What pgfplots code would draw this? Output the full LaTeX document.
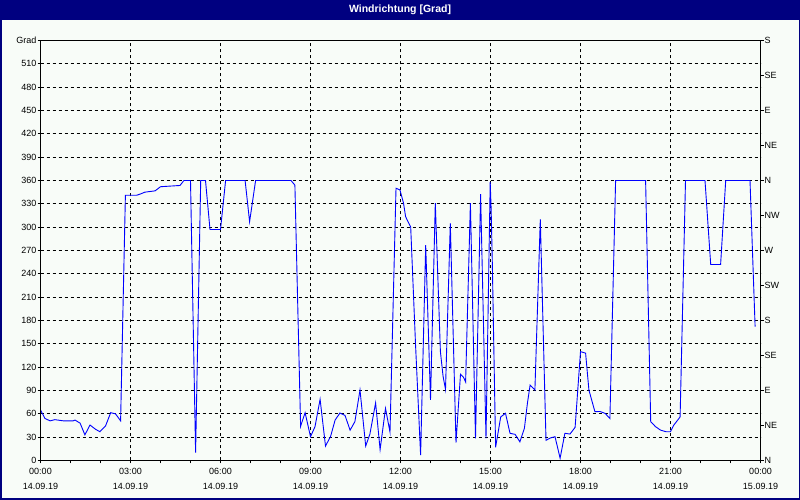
\documentclass[border=0pt]{standalone}
\usepackage{pgfplots}
\pgfplotsset{compat=1.18}
\usepackage{fontspec}
\setmainfont{Liberation Sans}
\definecolor{navy}{RGB}{0,0,128}
\definecolor{bgc}{RGB}{248,252,248}
\begin{document}
\begin{tikzpicture}
\useasboundingbox (0pt,0pt) rectangle (800pt,500pt);
\fill[bgc] (0pt,0pt) rectangle (800pt,500pt);
\fill[navy] (0pt,479.5pt) rectangle (800pt,500pt);
\draw[navy,line width=1.5pt] (0.75pt,0.75pt) rectangle (799.25pt,499.25pt);
\node[white,font=\bfseries\fontsize{10.5}{12}\selectfont] at (400pt,490pt) {Windrichtung [Grad]};
\begin{axis}[
  at={(40.5pt,39.5pt)}, anchor=south west, scale only axis,
  width=720pt, height=420pt,
  xmin=0, xmax=24, ymin=0, ymax=540,
  axis line style={black, line width=0.9pt},
  tick align=outside, tick pos=left,
  major tick length=3pt, minor tick length=3pt,
  every tick/.style={black, line width=0.8pt},
  xtick={0,3,...,24},
  minor xtick={1,2,4,5,7,8,10,11,13,14,16,17,19,20,22,23},
  xticklabels={{00:00\\14.09.19},{03:00\\14.09.19},{06:00\\14.09.19},{09:00\\14.09.19},{12:00\\14.09.19},{15:00\\14.09.19},{18:00\\14.09.19},{21:00\\14.09.19},{00:00\\15.09.19}},
  xticklabel style={align=center, font=\fontsize{9}{15}\selectfont, inner sep=1pt, yshift=-4pt},
  ytick={0,30,...,540},
  yticklabels={0,30,60,90,120,150,180,210,240,270,300,330,360,390,420,450,480,510,Grad},
  yticklabel style={font=\fontsize{9}{11}\selectfont, inner sep=1pt},
  grid=major,
  major grid style={black, line width=0.8pt, dash pattern=on 3pt off 3pt},
]
\addplot[blue, line width=0.9pt] coordinates {
(0.00,65) (0.15,54) (0.32,51) (0.48,52.5) (0.76,51) (1.09,51) (1.15,52) (1.32,48) (1.48,33) (1.65,45.6)
(1.84,40) (1.98,37) (2.17,44.6) (2.34,61.5) (2.50,60) (2.67,51) (2.83,341) (3.20,341) (3.32,342.5) (3.48,345)
(3.82,346.7) (4.00,352) (4.65,353.6) (4.78,360) (5.00,360) (5.17,10) (5.34,360) (5.50,360) (5.65,297) (6.00,297)
(6.17,360) (6.82,360) (6.97,307) (7.17,360) (8.35,360) (8.48,354) (8.67,44) (8.82,61.5) (9.00,30.6) (9.15,43.5)
(9.32,78.7) (9.50,18.6) (9.67,31) (9.82,52) (9.98,61) (10.15,58) (10.32,39) (10.48,50) (10.65,90.6) (10.84,18.6)
(10.98,34) (11.17,74) (11.32,14) (11.50,67) (11.65,36.5) (11.85,350) (11.98,348) (12.10,331) (12.17,313.5) (12.34,300)
(12.50,150) (12.67,7) (12.84,277) (13.00,78) (13.16,331) (13.33,140) (13.42,108) (13.50,91.5) (13.66,305) (13.85,23)
(14.00,111) (14.10,107) (14.17,101) (14.33,331) (14.50,28.5) (14.67,342.6) (14.85,28.5) (14.99,358) (15.02,325) (15.06,255) (15.17,17) (15.34,56)
(15.50,60.7) (15.65,35) (15.82,33.6) (15.98,24) (16.13,41.4) (16.23,73.5) (16.32,97) (16.48,90.6) (16.66,310) (16.85,26)
(17.00,29) (17.15,30.6) (17.32,3) (17.48,35) (17.65,34) (17.82,42.6) (18.00,140) (18.17,138) (18.28,90.6) (18.48,62.8)
(18.65,63) (18.82,60.6) (18.98,54) (19.17,360) (20.17,360) (20.34,50) (20.50,43.5) (20.67,39) (20.85,37) (21.00,37)
(21.10,45) (21.32,56) (21.50,360) (22.15,360) (22.34,252) (22.67,252) (22.84,360) (23.65,360) (23.82,172)
};
\end{axis}
\begin{axis}[
  at={(40.5pt,39.5pt)}, anchor=south west, scale only axis,
  width=720pt, height=420pt,
  xmin=0, xmax=24, ymin=0, ymax=540,
  hide x axis,
  axis line style={black, line width=0.9pt},
  tick align=outside, ytick pos=right, yticklabel pos=right,
  major tick length=3pt,
  every tick/.style={black, line width=0.8pt},
  ytick={0,45,...,540},
  yticklabels={N,NE,E,SE,S,SW,W,NW,N,NE,E,SE,S},
  yticklabel style={font=\fontsize{9}{11}\selectfont, inner sep=1pt},
]
\end{axis}
\end{tikzpicture}
\end{document}
